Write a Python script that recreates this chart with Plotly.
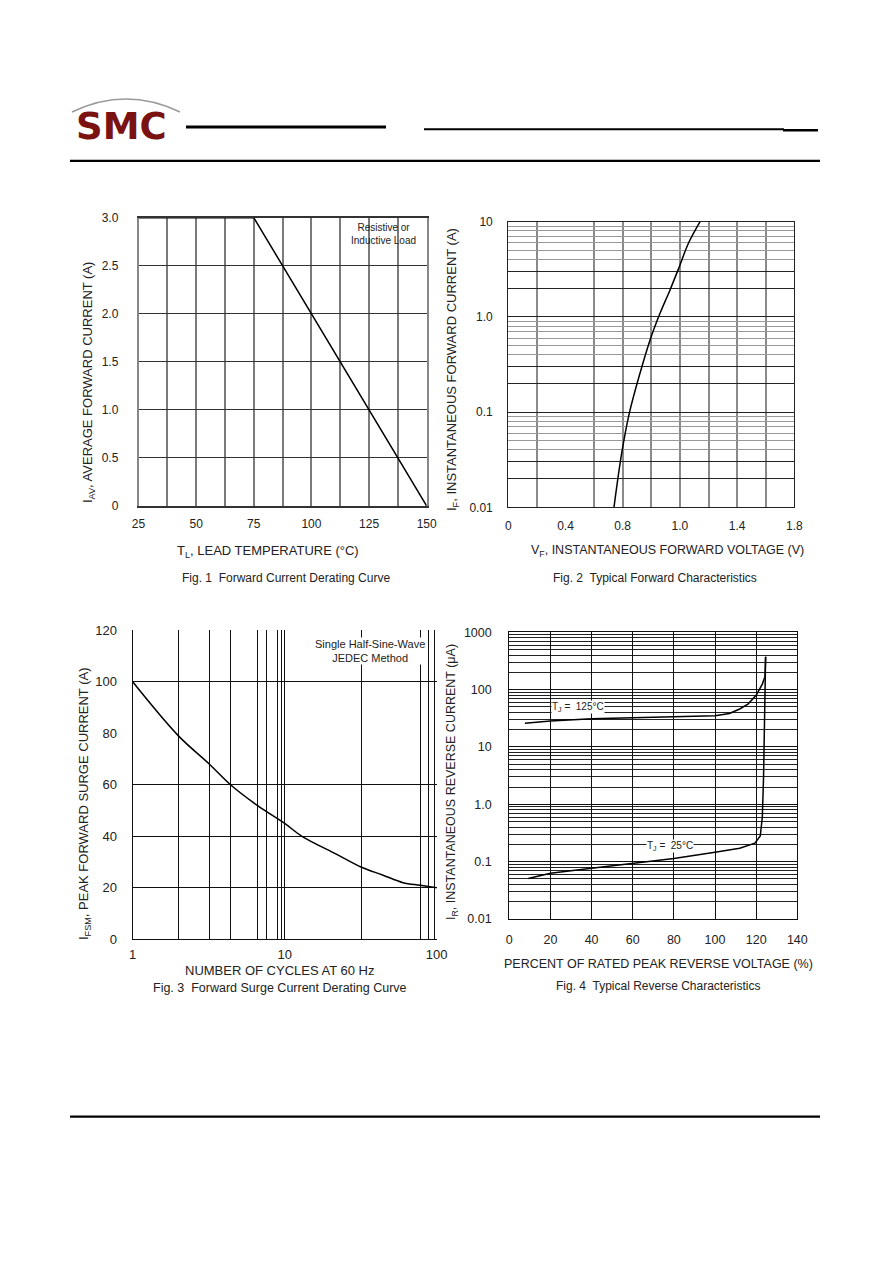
""" Rectifier datasheet page: four characteristic curves.
"""
import plotly.graph_objects as go

PAGE_W, PAGE_H = 892, 1263
OFF = 8  # default body margin of the page holding the figure
W, H = PAGE_W - 2 * OFF, PAGE_H - 2 * OFF

# Fig. 1 - forward current derating
lead_temp = [25, 75, 150]
avg_current = [3.0, 3.0, 0.0]

# Fig. 2 - typical forward characteristics (x read on the chart's evenly spaced grid)
fwd_voltage = [0.739, 0.793, 0.846, 0.921, 0.991, 1.061, 1.131, 1.196, 1.259, 1.341]
fwd_current = [0.01, 0.037, 0.097, 0.256, 0.57, 1.09, 1.92, 3.37, 5.9, 10.0]
fwd_volt_ticks = [0, 0.4, 0.8, 1.2, 1.6, 2.0]
fwd_volt_labels = ['0', '0.4', '0.8', '1.0', '1.4', '1.8']

# Fig. 3 - surge current derating
cycles = [1, 2, 3.2, 4.4, 6.6, 10, 13, 22, 32, 44, 60, 78, 100]
surge_current = [100, 79, 68, 60, 52, 45, 40, 33, 28, 25, 22, 21, 20]
cycle_grid = [2, 3.2, 4.4, 6.6, 7.6, 8.9, 9.5, 10, 32, 78, 88, 96]

# Fig. 4 - typical reverse characteristics
pct_125 = [7.6, 20, 40, 60, 80, 100, 107, 112, 116, 120, 123, 124.3, 124.6]
ir_125 = [26, 28.5, 31, 32.5, 33.5, 35, 38.5, 46, 56, 80, 125, 170, 375]
pct_25 = [9.2, 20, 40, 60, 80, 100, 112, 119.4, 122, 123, 123.6, 124.6]
ir_25 = [0.051, 0.063, 0.077, 0.094, 0.114, 0.146, 0.171, 0.21, 0.28, 0.6, 3.0, 375]

FONT = 'Liberation Sans, Arial, sans-serif'
TXT = '#222222'


def px(x):
    return (x - OFF) / W


def py(y):
    return 1 - (y - OFF) / H


def log_minor(lo, hi, steps=range(2, 10)):
    vals = []
    d = lo
    while d < hi:
        vals += [d * k for k in steps]
        d *= 10
    return vals


fig = go.Figure()

line = dict(color='black', width=1.5)
fig.add_trace(go.Scatter(x=lead_temp, y=avg_current, mode='lines', line=line,
                         xaxis='x', yaxis='y'))
fig.add_trace(go.Scatter(x=fwd_voltage, y=fwd_current, mode='lines', line=line,
                         line_shape='spline', xaxis='x2', yaxis='y2'))
fig.add_trace(go.Scatter(x=cycles, y=surge_current, mode='lines', line=line,
                         line_shape='spline', xaxis='x3', yaxis='y3'))
fig.add_trace(go.Scatter(x=pct_125, y=ir_125, mode='lines', line=line,
                         xaxis='x4', yaxis='y4'))
fig.add_trace(go.Scatter(x=pct_25, y=ir_25, mode='lines', line=line,
                         xaxis='x4', yaxis='y4'))

tickfont = dict(family=FONT, size=12, color=TXT)

fig.update_layout(
    template='none',
    width=W, height=H,
    margin=dict(l=0, r=0, t=0, b=0, pad=0, autoexpand=False),
    paper_bgcolor='white', plot_bgcolor='white',
    showlegend=False,
    font=dict(family=FONT, color=TXT),
    # Fig. 1
    xaxis=dict(domain=[px(138.5), px(426.7)], anchor='y', range=[25, 150],
               tickvals=[25, 50, 75, 100, 125, 150], ticks='', showgrid=False,
               minor=dict(tickvals=[37.5, 50, 62.5, 75, 87.5, 100, 112.5, 125, 137.5],
                          showgrid=True, gridcolor='#7a7a7a', gridwidth=1.5, ticklen=0),
               showline=True, linecolor='#333', linewidth=1.5, mirror=True,
               zeroline=False, tickfont=tickfont, ticklabelstandoff=6),
    yaxis=dict(domain=[py(506), py(217.7)], anchor='x', range=[0, 3],
               tickvals=[0, 0.5, 1.0, 1.5, 2.0, 2.5, 3.0],
               ticktext=['0', '0.5', '1.0', '1.5', '2.0', '2.5', '3.0'],
               ticks='', gridcolor='#333', gridwidth=1,
               showline=True, linecolor='#888', linewidth=1.5, mirror=True,
               zeroline=False, tickfont=tickfont, ticklabelstandoff=16),
    # Fig. 2
    xaxis2=dict(domain=[px(508.3), px(794.3)], anchor='y2', range=[0, 2.0],
                tickvals=fwd_volt_ticks, ticktext=fwd_volt_labels, ticks='',
                showgrid=False,
                minor=dict(tickvals=[0.2, 0.6, 0.8, 1.0, 1.2, 1.4, 1.6, 1.8],
                           showgrid=True, gridcolor='#8a8a8a', gridwidth=1.5, ticklen=0),
                showline=True, linecolor='#222', linewidth=1.2, mirror=True,
                zeroline=False, tickfont=tickfont, ticklabelstandoff=7),
    yaxis2=dict(domain=[py(507.3), py(221.7)], anchor='x2', type='log', range=[-2, 1],
                tickvals=[0.01, 0.02, 0.03, 0.1, 0.2, 0.3, 1, 2, 3, 10],
                ticktext=['0.01', '', '', '0.1', '', '', '1.0', '', '', '10'],
                ticks='', gridcolor='#222', gridwidth=1,
                minor=dict(tickvals=log_minor(0.01, 10, range(4, 10)), showgrid=True,
                           gridcolor='#999', gridwidth=1, ticklen=0),
                showline=True, linecolor='#222', linewidth=1.2, mirror=True,
                zeroline=False, tickfont=tickfont, ticklabelstandoff=12),
    # Fig. 3
    xaxis3=dict(domain=[px(132.7), px(436.7)], anchor='y3', type='log', range=[0, 2],
                tickvals=[1, 10, 100], ticktext=['1', '10', '100'], ticks='',
                showgrid=False,
                minor=dict(tickvals=cycle_grid, showgrid=True, gridcolor='#111',
                           gridwidth=1, ticklen=0),
                showline=True, linecolor='#111', linewidth=1.2, mirror=False,
                zeroline=False, tickfont=dict(family=FONT, size=13, color=TXT),
                ticklabelstandoff=3),
    yaxis3=dict(domain=[py(939.3), py(630.3)], anchor='x3', range=[0, 120],
                tickvals=[0, 20, 40, 60, 80, 100, 120], ticks='', showgrid=False,
                minor=dict(tickvals=[20, 40, 60, 100], showgrid=True, gridcolor='#111',
                           gridwidth=1, ticklen=0),
                showline=True, linecolor='#111', linewidth=1.2, mirror=False,
                zeroline=False, tickfont=dict(family=FONT, size=13, color=TXT),
                ticklabelstandoff=12),
    # Fig. 4
    xaxis4=dict(domain=[px(509.3), px(797.3)], anchor='y4', range=[0, 140],
                tickvals=[0, 20, 40, 60, 80, 100, 120, 140], ticks='',
                gridcolor='#111', gridwidth=1,
                showline=True, linecolor='#111', linewidth=1.2, mirror=True,
                zeroline=False, tickfont=dict(family=FONT, size=12.5, color=TXT),
                ticklabelstandoff=9),
    yaxis4=dict(domain=[py(919), py(632.3)], anchor='x4', type='log', range=[-2, 3],
                tickvals=[0.01, 0.1, 1, 10, 100, 1000],
                ticktext=['0.01', '0.1', '1.0', '10', '100', '1000'],
                ticks='', gridcolor='#111', gridwidth=1,
                minor=dict(tickvals=log_minor(0.01, 1000), showgrid=True,
                           gridcolor='#222', gridwidth=1, ticklen=0),
                showline=True, linecolor='#111', linewidth=1.2, mirror=True,
                zeroline=False, tickfont=dict(family=FONT, size=12.5, color=TXT),
                ticklabelstandoff=14),
)
for ax in ['xaxis', 'yaxis', 'xaxis2', 'yaxis2', 'xaxis3', 'yaxis3', 'xaxis4', 'yaxis4']:
    fig.layout[ax].automargin = False


def label(text, x, y, size=12.5, angle=0, bg=None, color=TXT, family=FONT, bold=False):
    if bold:
        text = '<b>' + text + '</b>'
    fig.add_annotation(text=text, x=px(x), y=py(y), xref='paper', yref='paper',
                       showarrow=False, textangle=angle, xanchor='center', yanchor='middle',
                       font=dict(family=family, size=size, color=color),
                       bgcolor=bg, borderpad=0)


# axis titles and captions
label('I<sub>AV</sub>, AVERAGE FORWARD CURRENT (A)', 88, 383, 13, -90)
label('T<sub>L</sub>, LEAD TEMPERATURE (°C)', 268, 551, 13)
label('Fig. 1  Forward Current Derating Curve', 286, 578, 12)
label('Resistive or<br>Inductive Load', 383, 234, 10)

label('I<sub>F</sub>, INSTANTANEOUS FORWARD CURRENT (A)', 452, 370, 13, -90)
label('V<sub>F</sub>, INSTANTANEOUS FORWARD VOLTAGE (V)', 667, 551, 12.5)
label('Fig. 2  Typical Forward Characteristics', 655, 578, 12)

label('I<sub>FSM</sub>, PEAK FORWARD SURGE CURRENT (A)', 84, 804, 13, -90)
label('NUMBER OF CYCLES AT 60 Hz', 280, 970, 13)
label('Fig. 3  Forward Surge Current Derating Curve', 280, 988, 12.5)
label('Single Half-Sine-Wave<br>JEDEC Method', 370, 651, 11, bg='white')

label('I<sub>R</sub>, INSTANTANEOUS REVERSE CURRENT (μA)', 452, 782, 12.5, -90)
label('PERCENT OF RATED PEAK REVERSE VOLTAGE (%)', 658, 964, 12.5)
label('Fig. 4  Typical Reverse Characteristics', 658, 986, 12)
label('T<sub>J</sub> =  125°C', 578, 707, 10, bg='white')
label('T<sub>J</sub> =  25°C', 670, 846, 10, bg='white')

# header logo and rules
label('SMC', 121, 126, 37, color='#7a1212', family='DejaVu Sans', bold=True)
fig.add_shape(type='path', xref='paper', yref='paper',
              path='M {} {} Q {} {} {} {}'.format(px(72), py(112), px(126), py(86),
                                                  px(180), py(112)),
              line=dict(color='#9a9a9a', width=1.5))


def rule(x0, x1, y, width):
    fig.add_shape(type='line', xref='paper', yref='paper',
                  x0=px(x0), x1=px(x1), y0=py(y), y1=py(y),
                  line=dict(color='black', width=width))


rule(186, 386, 127, 3)
rule(424, 784, 129.3, 2)
rule(783, 818, 130.2, 2.5)
rule(70, 820, 160.8, 2.3)
rule(70, 820, 1116.7, 2.3)

fig.write_html('out.html')
